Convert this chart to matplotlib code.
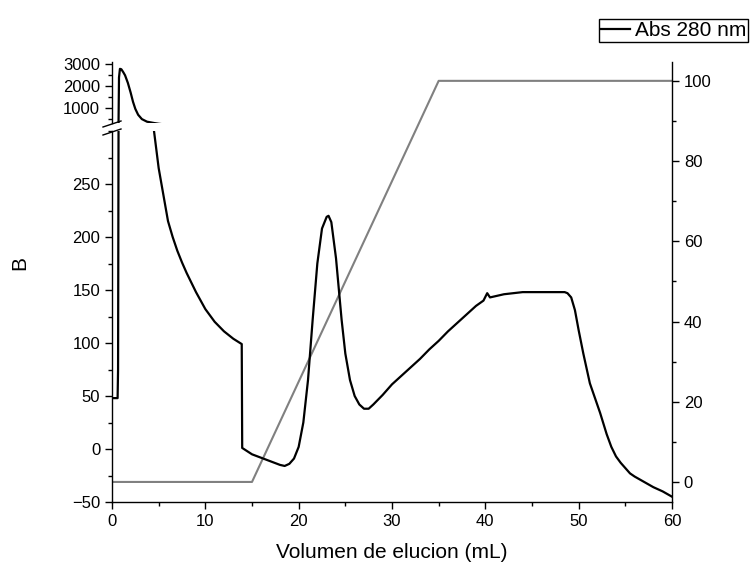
import matplotlib.pyplot as plt
from matplotlib.ticker import MultipleLocator

plt.rcParams["font.family"] = ["Liberation Sans", "DejaVu Sans"]

# absorbance trace
vol = [0.0, 0.6, 0.65, 0.7, 0.75, 0.85, 1.0, 1.2, 1.4, 1.7, 2.0, 2.25, 2.5, 2.8, 3.2, 3.75,
       4.5, 5.0, 5.5, 6.0, 6.5, 7.0, 7.5, 8.0, 9.0, 10.0, 11.0, 12.0, 13.0, 13.9, 13.95,
       15.0, 16.5, 18.0, 18.5, 19.0, 19.5, 20.0, 20.5, 21.0, 21.5, 22.0, 22.5,
       23.0, 23.2, 23.5, 24.0, 24.6, 25.0, 25.5, 26.0, 26.5, 27.0, 27.5, 28.0,
       29.0, 30.0, 31.0, 32.0, 33.0, 34.0, 35.0, 36.0, 37.0, 38.0, 39.0, 39.8,
       40.2, 40.5, 41.0, 42.0, 43.0, 44.0, 46.0, 48.0, 48.5, 48.8, 49.2, 49.6,
       50.0, 50.5, 51.2, 52.3, 53.0, 53.5, 54.0, 54.5, 55.0, 55.5, 56.0, 57.0,
       58.0, 59.0, 60.0]
abs280 = [48, 48, 75, 300, 2400, 2800, 2780, 2650, 2500, 2150, 1700, 1280, 950, 680, 480, 360,
          300, 265, 240, 215, 200, 187, 176, 166, 148, 132, 120, 111, 104, 99, 1,
          -5, -10, -15, -16, -14, -9, 2, 25, 65, 122, 175, 208,
          219, 220, 214, 180, 122, 90, 65, 50, 42, 38, 38, 42,
          51, 61, 69, 77, 85, 94, 102, 111, 119, 127, 135, 140,
          147, 143, 144, 146, 147, 148, 148, 148, 148, 147, 143, 131,
          112, 90, 62, 34, 14, 2, -7, -13, -18, -23, -26, -31,
          -36, -40, -45]

# gradient (%B)
grad_vol = [0, 15, 35, 60]
grad_b = [0, 0, 100, 100]

fig = plt.figure(figsize=(7.5, 5.67), dpi=100)
L, W = 112 / 750, 560 / 750

ax_g = fig.add_axes([L, 65 / 567, W, 440 / 567])
ax_lo = fig.add_axes([L, 65 / 567, W, 371 / 567])
ax_hi = fig.add_axes([L, 444 / 567, W, 61 / 567])

# gradient on right axis, full height
ax_g.plot(grad_vol, grad_b, color="#808080", lw=1.5)
ax_g.set_xlim(0, 60)
ax_g.set_ylim(-5, 104.7)
ax_g.patch.set_alpha(0)
ax_g.yaxis.tick_right()
for s in ["left", "top", "bottom"]:
    ax_g.spines[s].set_visible(False)
ax_g.xaxis.set_visible(False)
ax_g.yaxis.set_major_locator(MultipleLocator(20))
ax_g.yaxis.set_minor_locator(MultipleLocator(10))

for ax in (ax_lo, ax_hi):
    ax.plot(vol, abs280, color="black", lw=1.6, label="Abs 280 nm")
    ax.set_xlim(0, 60)
    ax.patch.set_alpha(0)
    ax.spines["top"].set_visible(False)
    ax.spines["right"].set_visible(False)

ax_lo.set_ylim(-50, 300)
ax_lo.yaxis.set_major_locator(MultipleLocator(50))
ax_lo.yaxis.set_minor_locator(MultipleLocator(25))
ax_lo.set_yticks([-50, 0, 50, 100, 150, 200, 250])
ax_lo.xaxis.set_major_locator(MultipleLocator(10))
ax_lo.xaxis.set_minor_locator(MultipleLocator(5))
ax_lo.set_xlabel("Volumen de elucion (mL)", fontsize=15, labelpad=10)

ax_hi.set_ylim(300, 3115)
ax_hi.set_yticks([1000, 2000, 3000])
ax_hi.set_yticks([500, 1500, 2500], minor=True)
ax_hi.spines["bottom"].set_visible(False)
ax_hi.xaxis.set_visible(False)

for ax in (ax_g, ax_lo, ax_hi):
    ax.tick_params(which="major", direction="out", length=5, width=1, labelsize=12)
    ax.tick_params(which="minor", direction="out", length=3, width=1)
    for s in ax.spines.values():
        s.set_linewidth(1)

fig.text(20 / 750, 1 - 263 / 567, "B", rotation=90, fontsize=15, ha="center", va="center")

# break marks on left axis
for yb in (124, 132):
    y0 = 1 - (yb + 3) / 567
    y1 = 1 - (yb - 3) / 567
    fig.add_artist(plt.Line2D([103 / 750, 121 / 750], [y0, y1], color="black", lw=1))

leg = fig.legend(handles=ax_lo.get_lines()[:1], loc="upper right",
                 bbox_to_anchor=(748 / 750, 1 - 19 / 567), fontsize=15,
                 fancybox=False, edgecolor="black", framealpha=1,
                 handlelength=1.4, borderpad=0.1, handletextpad=0.2, borderaxespad=0)
leg.get_frame().set_linewidth(1)

fig.savefig("out.png", dpi=100)
